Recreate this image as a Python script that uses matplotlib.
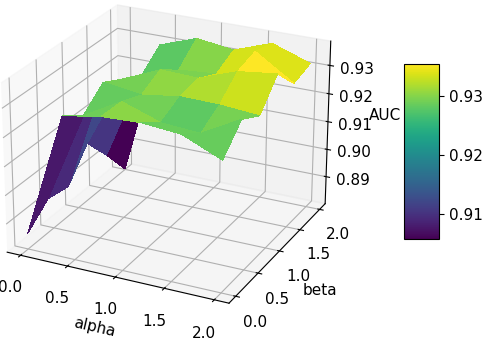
import numpy as np
import matplotlib
matplotlib.use("Agg")
import matplotlib.pyplot as plt
plt.rcParams['font.size'] = 11

alpha = [0.0, 0.4, 0.8, 1.2, 1.6, 2.0]
beta = [0.0, 0.4, 0.8, 1.2, 1.6, 2.0]
auc_alpha_00 = [0.8856, 0.8920, 0.8906, 0.9008, 0.8910, 0.8802]
auc_alpha_04 = [0.9291, 0.9239, 0.9302, 0.9264, 0.9228, 0.9288]
auc_alpha_08 = [0.9314, 0.9312, 0.9283, 0.9320, 0.9270, 0.9334]
auc_alpha_12 = [0.9319, 0.9266, 0.9302, 0.9315, 0.9280, 0.9316]
auc_alpha_16 = [0.9307, 0.9256, 0.9299, 0.9362, 0.9382, 0.9363]
auc_alpha_20 = [0.9249, 0.9329, 0.9288, 0.9378, 0.9296, 0.9316]
xy_ticks = [0.0, 0.5, 1.0, 1.5, 2.0]
xy_ticklabels = ['0.0', '0.5', '1.0', '1.5', '2.0']
z_ticks = [0.89, 0.90, 0.91, 0.92, 0.93]
z_ticklabels = ['0.89', '0.90', '0.91', '0.92', '0.93']
cb_ticks = [0.91, 0.92, 0.93]
cb_ticklabels = ['0.91', '0.92', '0.93']

W, H = 486, 340
fig = plt.figure(figsize=(W / 100, H / 100), dpi=100)
s = 376
cx, cy = 165, 151
ax = fig.add_axes([(cx - s / 2) / W, (H - cy - s / 2) / H, s / W, s / H], projection='3d')
ax.view_init(elev=24, azim=-64)
ax.patch.set_alpha(0)
ax.set_xlim(-0.145, 2.145)
ax.set_ylim(-0.145, 2.145)
ax.set_zlim(0.8800, 0.9385)
ax.set_xticks(xy_ticks)
ax.set_yticks(xy_ticks)
ax.set_zticks(z_ticks)
ax.set_xticklabels(xy_ticklabels)
ax.set_yticklabels(xy_ticklabels)
ax.set_zticklabels(z_ticklabels)
ax.tick_params(axis='x', pad=5)
ax.tick_params(axis='y', pad=4)
ax.tick_params(axis='z', pad=4.5)
ax.set_xlabel('alpha', labelpad=5)
ax.set_ylabel('beta', labelpad=5)
ax.set_zlabel('AUC', labelpad=5.5)

Z = np.array([auc_alpha_00, auc_alpha_04, auc_alpha_08, auc_alpha_12, auc_alpha_16, auc_alpha_20])
X, Y = np.meshgrid(alpha, beta, indexing='ij')
surf = ax.plot_surface(X, Y, Z, cmap='viridis', linewidth=0, antialiased=False, rstride=1, cstride=1)

cax = fig.add_axes([404 / W, (H - 239) / H, 35 / W, 175 / H])
cb = fig.colorbar(surf, cax=cax)
cb.set_ticks(cb_ticks)
cb.set_ticklabels(cb_ticklabels)
fig.savefig('out.png', dpi=100)
